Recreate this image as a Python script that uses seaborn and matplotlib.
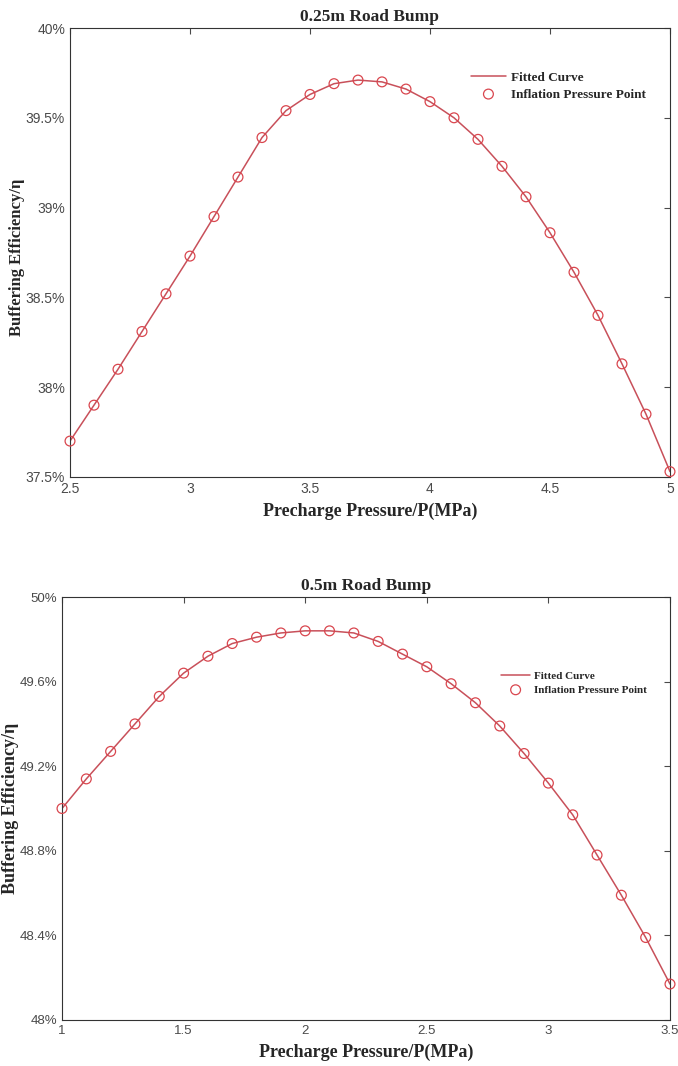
import matplotlib
matplotlib.use("Agg")
import matplotlib.pyplot as plt
import seaborn as sns
import numpy as np
import pandas as pd
from matplotlib.ticker import FuncFormatter

sns.set_theme(style="white")
plt.rcParams['font.family'] = ['Liberation Sans', 'DejaVu Sans']

# Top panel: 0.25m road bump
p_top = [2.5, 2.6, 2.7, 2.8, 2.9, 3.0, 3.1, 3.2, 3.3, 3.4, 3.5, 3.6, 3.7,
         3.8, 3.9, 4.0, 4.1, 4.2, 4.3, 4.4, 4.5, 4.6, 4.7, 4.8, 4.9, 5.0]
eff_top = [37.70, 37.90, 38.10, 38.31, 38.52, 38.73, 38.95, 39.17, 39.39, 39.54,
           39.63, 39.69, 39.71, 39.70, 39.66, 39.59, 39.50, 39.38, 39.23, 39.06,
           38.86, 38.64, 38.40, 38.13, 37.85, 37.53]

# Bottom panel: 0.5m road bump
p_bot = [1.0, 1.1, 1.2, 1.3, 1.4, 1.5, 1.6, 1.7, 1.8, 1.9, 2.0, 2.1, 2.2,
         2.3, 2.4, 2.5, 2.6, 2.7, 2.8, 2.9, 3.0, 3.1, 3.2, 3.3, 3.4, 3.5]
eff_bot = [49.00, 49.14, 49.27, 49.40, 49.53, 49.64, 49.72, 49.78, 49.81, 49.83,
           49.84, 49.84, 49.83, 49.79, 49.73, 49.67, 49.59, 49.50, 49.39, 49.26,
           49.12, 48.97, 48.78, 48.59, 48.39, 48.17]

titles = ["0.25m Road Bump", "0.5m Road Bump"]
xlabel = "Precharge Pressure/P(MPa)"
ylabel = "Buffering Efficiency/\u03b7"
legend_labels = ["Fitted Curve", "Inflation Pressure Point"]

top_xticks = [2.5, 3, 3.5, 4, 4.5, 5]
top_yticks = [37.5, 38, 38.5, 39, 39.5, 40]
bot_xticks = [1, 1.5, 2, 2.5, 3, 3.5]
bot_yticks = [48, 48.4, 48.8, 49.2, 49.6, 50]

line_color = "#c8505a"
marker_color = "#d9464e"
serif = ['Liberation Serif', 'DejaVu Serif']
tick_color = "#4a4a4a"

fig = plt.figure(figsize=(6.78, 10.66), dpi=100)
ax1 = fig.add_axes([70/678, 1 - 477/1066, 600/678, 449/1066])
ax2 = fig.add_axes([62/678, 1 - 1020/1066, 608/678, 423/1066])

def draw(ax, x, y, title, xticks, yticks, yfmt, leg_anchor, leg_size,
         ylab_xy, ylab_size, tick_size):
    df = pd.DataFrame({"P": x, "eff": y})
    sns.lineplot(data=df, x="P", y="eff", ax=ax, color=line_color, lw=1.1,
                 label=legend_labels[0])
    sns.scatterplot(data=df, x="P", y="eff", ax=ax, marker="o", s=50,
                    facecolors="none", edgecolor=marker_color, linewidth=0.9,
                    label=legend_labels[1], clip_on=False, zorder=3)
    ax.set_xlim(xticks[0], xticks[-1])
    ax.set_ylim(yticks[0], yticks[-1])
    ax.set_xticks(xticks)
    ax.set_yticks(yticks)
    ax.set_xticklabels([f"{v:g}" for v in xticks])
    ax.yaxis.set_major_formatter(FuncFormatter(lambda v, _: yfmt(v)))
    ax.tick_params(direction="in", top=True, right=True, length=4,
                   labelsize=tick_size, colors=tick_color, width=0.8)
    for sp in ax.spines.values():
        sp.set_color("#333333")
        sp.set_linewidth(0.8)
    ax.set_title(title, fontsize=12.5, fontweight="bold", family=serif, pad=5)
    ax.set_xlabel(xlabel, fontsize=13, fontweight="bold", family=serif, labelpad=5)
    ax.set_ylabel(ylabel, fontsize=ylab_size, fontweight="bold", family=serif)
    ax.yaxis.set_label_coords(*ylab_xy)
    leg = ax.legend(loc="upper left", bbox_to_anchor=leg_anchor, frameon=False,
                    prop={"family": serif, "weight": "bold", "size": leg_size},
                    handlelength=2.6, labelspacing=0.35, handletextpad=0.4,
                    borderaxespad=0)
    return leg

draw(ax1, p_top, eff_top, titles[0], top_xticks, top_yticks,
     lambda v: f"{v:g}%", (0.66, 0.915), 9.5, (-0.075, 0.49), 12, 10)
draw(ax2, p_bot, eff_bot, titles[1], bot_xticks, bot_yticks,
     lambda v: f"{v:.1f}%" if abs(v - round(v)) > 1e-9 else f"{v:g}%",
     (0.715, 0.835), 8, (-0.071, 0.5), 13, 9.5)

fig.savefig("out.png", dpi=100)
